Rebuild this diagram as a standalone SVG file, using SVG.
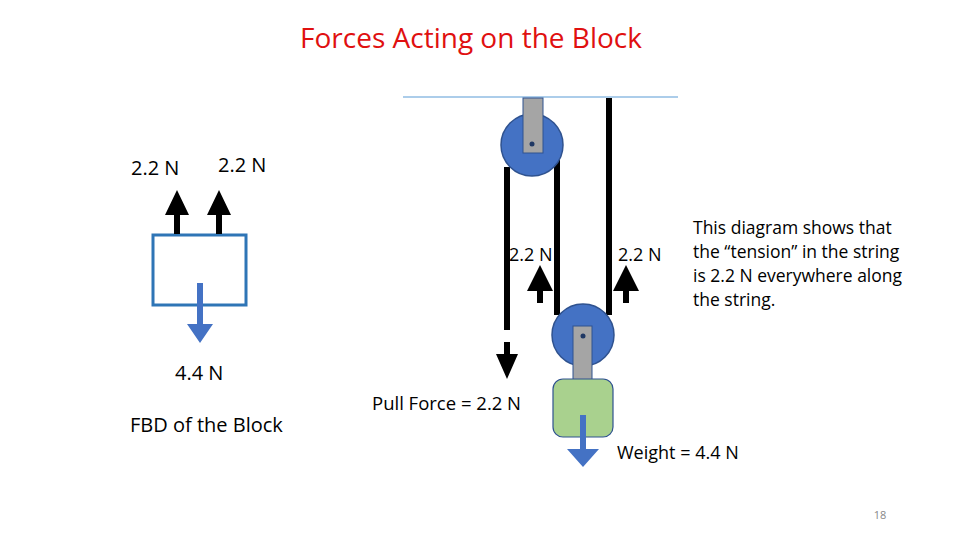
<svg xmlns="http://www.w3.org/2000/svg" width="960" height="540" viewBox="0 0 960 540">
<style>
text{font-family:"Open Sans","Liberation Sans",sans-serif;font-size:20px;fill:#000}
.rope{stroke:#000;stroke-width:6;fill:none}
.blk{fill:#000}
.blu{fill:#4472c4}
.pul{fill:#4472c4;stroke:#2f528f;stroke-width:1.5}
.brk{fill:#a5a5a5;stroke:#2f528f;stroke-width:1}
</style>
<rect width="960" height="540" fill="#fff"/>
<text x="471" y="48" text-anchor="middle" style="font-size:28px;fill:#e01010">Forces Acting on the Block</text>
<line x1="403" y1="97" x2="678" y2="97" stroke="#5b9bd5" stroke-width="1.2"/>
<g id="connectors">
<line class="rope" x1="507" y1="167" x2="507" y2="330"/>
<line class="rope" x1="557" y1="160" x2="557" y2="315"/>
<line class="rope" x1="609" y1="98" x2="609" y2="315"/>
</g>
<g id="top-pulley">
<circle class="pul" cx="532" cy="145" r="31"/>
<rect class="brk" x="523" y="98" width="20" height="55"/>
<circle cx="532" cy="144" r="2.5" fill="#1f3864"/>
</g>
<g id="bottom-pulley">
<circle class="pul" cx="583" cy="335" r="31"/>
<rect class="brk" x="573" y="326" width="19" height="54"/>
<circle cx="583" cy="336" r="2.5" fill="#1f3864"/>
</g>
<g id="weight-block">
<rect x="553" y="379" width="60" height="58" rx="10" fill="#a9d18e" stroke="#2f528f" stroke-width="1.2"/>
<polygon class="blu" points="580,415 586,415 586,449 599,449 583,467 567,449 580,449"/>
</g>
<g id="arrows">
<polygon class="blk" points="504,342 510,342 510,354 518,354 507,379 496,354 504,354"/>
<polygon class="blk" points="537,303 543,303 543,291 553,291 540,265 527,291 537,291"/>
<polygon class="blk" points="623,303 629,303 629,291 639,291 626,265 613,291 623,291"/>
</g>
<text x="509" y="261" style="font-size:18px">2.2 N</text>
<text x="618" y="261" style="font-size:18px">2.2 N</text>
<text x="372" y="410" style="font-size:18.5px">Pull Force  =  2.2 N</text>
<text x="617" y="459" style="font-size:18px">Weight = 4.4 N</text>
<g id="note">
<text x="693" y="234" style="font-size:17.5px">This diagram shows that</text>
<text x="693" y="258" style="font-size:17.5px">the “tension” in the string</text>
<text x="693" y="282" style="font-size:17.5px">is 2.2 N everywhere along</text>
<text x="693" y="306" style="font-size:17.5px">the string.</text>
</g>
<g id="fbd">
<rect x="153" y="235" width="93" height="70" fill="none" stroke="#2e75b6" stroke-width="3"/>
<polygon class="blk" points="174,234 180,234 180,215 189,215 177,190 165,215 174,215"/>
<polygon class="blk" points="216,234 222,234 222,215 231,215 219,190 207,215 216,215"/>
<polygon class="blu" points="197,283 203,283 203,324 213,324 200,343 187,324 197,324"/>
<text x="131" y="175">2.2 N</text>
<text x="218" y="172">2.2 N</text>
<text x="175" y="380">4.4 N</text>
<text x="130" y="432">FBD of the Block</text>
</g>
<text x="880" y="519" text-anchor="middle" style="font-size:11px;fill:#888">18</text>
</svg>
